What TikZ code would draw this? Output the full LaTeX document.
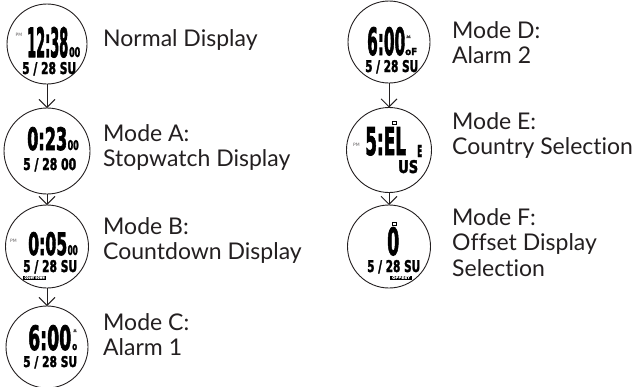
\documentclass[tikz,border=0pt]{standalone}
\usepackage{fontspec}
\usepackage{graphicx}
\setmainfont{Lato}[Ligatures={NoCommon}]
\newfontfamily\lcdf{DejaVu Sans}[BoldFeatures={FakeBold=2.5}]
\usetikzlibrary{arrows.meta}
\definecolor{ink}{HTML}{231F20}
\newcommand{\lcdtxt}[3]{\resizebox{#1pt}{#2pt}{\lcdf\bfseries #3}}
\begin{document}
\begin{tikzpicture}[x=1pt,y=-1pt,
 watch/.style={circle, draw=ink, line width=0.9pt, inner sep=0, outer sep=0},
 lbl/.style={anchor=base west, inner sep=0, text=ink, font=\fontsize{23}{25.6}\selectfont},
 lcd/.style={anchor=base west, inner sep=0, text=black},
 pmtxt/.style={inner sep=0, text=ink!70, font=\fontsize{4.5}{5}\selectfont\lcdf},
 modeflow/.style={draw=ink, line width=0.9pt, -{Straight Barb[length=8pt,width=16pt]}},
 lcdtag/.style={fill=black, text=white, inner sep=0, minimum height=4pt}
]
\useasboundingbox (0,0) rectangle (636,386);

% watch faces
\node[watch, minimum size=80pt] (nd) at (47,44) {};
\node[watch, minimum size=86pt] (ma) at (47,151) {};
\node[watch, minimum size=83pt] (mb) at (47,246.5) {};
\node[watch, minimum size=82pt] (mc) at (47,347) {};
\node[watch, minimum size=82pt] (md) at (389,42) {};
\node[watch, minimum size=85pt] (me) at (389,150) {};
\node[watch, minimum size=83pt] (mf) at (389,246.5) {};

% connectors
\draw[modeflow] (nd.south) -- (ma.north);
\draw[modeflow] (ma.south) -- (mb.north);
\draw[modeflow] (mb.south) -- (mc.north);
\draw[modeflow] (md.south) -- (me.north);
\draw[modeflow] (me.south) -- (mf.north);

% Normal display
\node[pmtxt] (npm) at (19,35) {PM};
\node[lcd] (nt) at (27,57) {\lcdtxt{41}{30}{12:38}};
\node[lcd] (ns) at (69,57) {\lcdtxt{11}{10}{00}};
\node[lcd] (nr) at (22,74) {\lcdtxt{54}{12}{5 / 28 SU}};

% Mode A
\node[lcd] (at) at (27,150) {\lcdtxt{40}{23}{0:23}};
\node[lcd] (as) at (67.5,150) {\lcdtxt{11}{10}{00}};
\node[lcd] (ar) at (23,170) {\lcdtxt{53}{12}{5 / 28 00}};

% Mode B
\node[pmtxt] (bpm) at (13.5,240.5) {PM};
\node[lcd] (bt) at (28,255) {\lcdtxt{39}{23}{0:05}};
\node[lcd] (bs) at (67.5,255) {\lcdtxt{10}{10}{00}};
\node[lcd] (br) at (23,272) {\lcdtxt{54}{12}{5 / 28 SU}};
\node[lcdtag, minimum width=23pt] (btag) at (34.5,277.5) {\lcdtxt{20}{2.4}{COUNT DOWN}};

% Mode C
\node[lcd] (ct) at (28,350) {\lcdtxt{43}{25}{6:00}};
\fill[ink!80] (73.2,332) -- (76.8,332) -- (76.2,330.8) -- (76.2,328.6) arc (0:180:1.2) -- (73.8,330.8) -- cycle;
\node[lcd] (cs) at (72,350) {\lcdtxt{5}{6}{o}};
\node[lcd] (cr) at (23,367) {\lcdtxt{54}{11}{5 / 28 SU}};

% Mode D
\node[lcd] (dt) at (367,55) {\lcdtxt{38}{28}{6:00}};
\fill[ink!80] (406.2,38) -- (410.8,38) -- (410.2,36.6) -- (410.2,34.6) arc (0:180:1.7) -- (406.8,36.6) -- cycle;
\node[lcd] (ds) at (405,55) {\lcdtxt{12}{7}{oF}};
\node[lcd] (dr) at (365,72) {\lcdtxt{53}{12}{5 / 28 SU}};

% Mode E
\node[pmtxt] (epm) at (356.5,145) {PM};
\node[lcd] (et) at (365,155) {\lcdtxt{41}{28}{5:EL}};
\fill[black] (392,121) rectangle (397,125);
\fill[white] (393.3,122.2) rectangle (395.7,123.8);
\node[lcd] (es) at (417,157) {\lcdtxt{5}{12}{E}};
\node[lcd] (er) at (398,173) {\lcdtxt{20}{13}{US}};

% Mode F
\fill[black] (392,222) rectangle (397,226);
\fill[white] (393.3,223.2) rectangle (395.7,224.8);
\node[lcd] (ft) at (387,255) {\lcdtxt{12}{28}{0}};
\node[lcd] (fr) at (367,272) {\lcdtxt{53}{12}{5 / 28 SU}};
\node[lcdtag, minimum width=22pt] (ftag) at (401,277.5) {\lcdtxt{18}{2.4}{OFFSET}};

% labels
\node[lbl] (ln) at (103,46) {Normal Display};
\node[lbl] (la) at (103,141) {\parbox[t]{230pt}{\raggedright Mode A:\\Stopwatch Display}};
\node[lbl] (lb) at (103,234) {\parbox[t]{230pt}{\raggedright Mode B:\\Countdown Display}};
\node[lbl] (lc) at (103,330) {\parbox[t]{230pt}{\raggedright Mode C:\\Alarm 1}};
\node[lbl] (ld) at (452,38) {\parbox[t]{230pt}{\raggedright Mode D:\\Alarm 2}};
\node[lbl] (le) at (452,129) {\parbox[t]{230pt}{\raggedright Mode E:\\Country Selection}};
\node[lbl] (lf) at (452,225) {\parbox[t]{230pt}{\raggedright Mode F:\\Offset Display\\Selection}};
\end{tikzpicture}
\end{document}
